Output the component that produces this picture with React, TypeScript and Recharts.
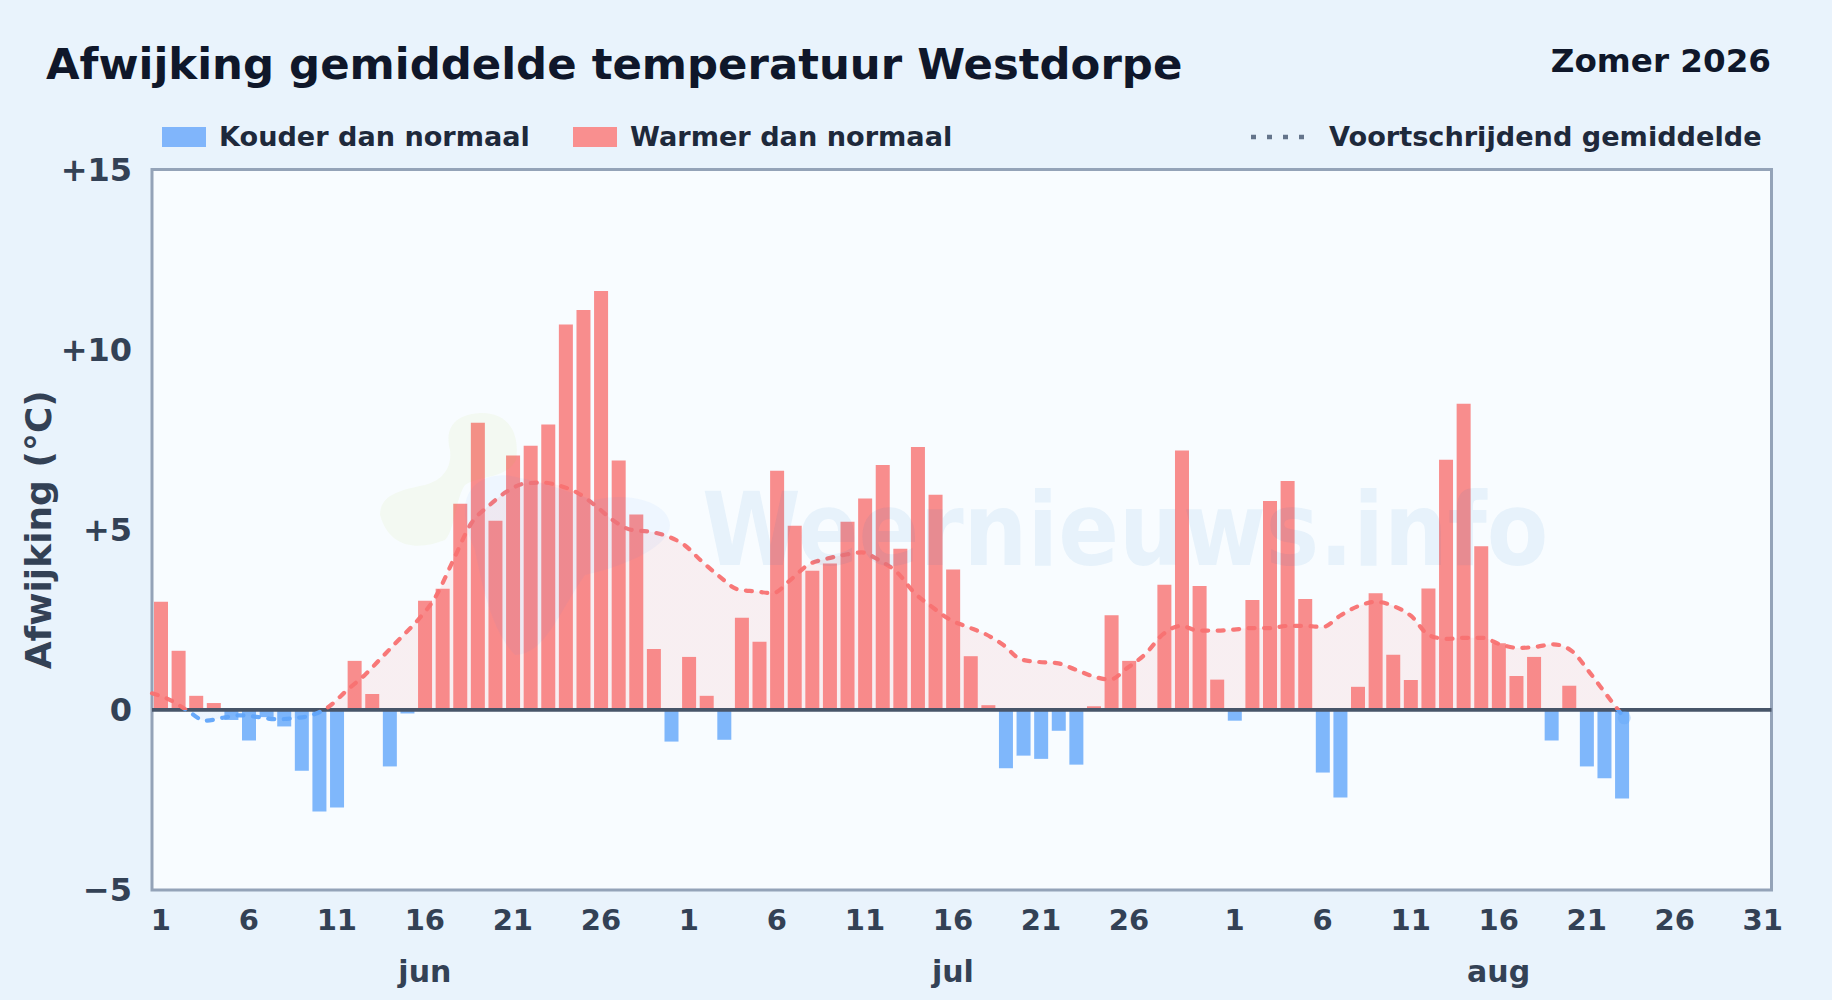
import React from "react";
import { ComposedChart, Bar, Line, Area, XAxis, YAxis, CartesianGrid, ReferenceLine } from "recharts";

const MONTH_LENGTHS = [["jun", 30], ["jul", 31], ["aug", 31]] as const;
const deviations = [
  3.0, 1.64, 0.39, 0.19, -0.28, -0.85, -0.2, -0.46, -1.69, -2.82, -2.71, 1.36, 0.44, -1.57, -0.1,
  3.03, 3.36, 5.72, 7.97, 5.25, 7.06, 7.33, 7.92, 10.7, 11.1, 11.63, 6.92, 5.42, 1.69, -0.88,
  1.47, 0.39, -0.83, 2.56, 1.89, 6.64, 5.11, 3.86, 4.06, 5.22, 5.87, 6.8, 4.47, 7.3, 5.97, 3.9, 1.49, 0.13,
  -1.62, -1.27, -1.36, -0.58, -1.52, 0.1, 2.63, 1.36, 0, 3.47, 7.2, 3.44, 0.84,
  -0.3, 3.05, 5.8, 6.35, 3.08, -1.74, -2.43, 0.64, 3.24, 1.53, 0.83, 3.37, 6.94, 8.5, 4.54, 1.85, 0.94, 1.47,
  -0.85, 0.67, -1.57, -1.9, -2.46,
];
const movingAverage = [
  0.46, 0.28, -0.02, -0.3, -0.22, -0.15, -0.2, -0.26, -0.23, -0.15, 0.1, 0.55, 0.97, 1.48, 1.99, 2.5, 3.15, 4.17,
  5.18, 5.67, 6.06, 6.28, 6.31, 6.22, 6.02, 5.67, 5.26, 5.0, 4.95, 4.83, 4.58, 4.12, 3.7, 3.35, 3.29, 3.24, 3.61,
  4.03, 4.19, 4.3, 4.37, 4.15, 3.82, 3.24, 2.85, 2.5, 2.3, 2.1, 1.8, 1.4, 1.33, 1.3, 1.13, 0.94, 0.84, 1.17, 1.55,
  2.1, 2.33, 2.2, 2.2, 2.23, 2.27, 2.27, 2.33, 2.33, 2.3, 2.62, 2.88, 3.0, 2.88, 2.6, 2.07, 1.97, 2.0, 2.0, 1.82,
  1.72, 1.75, 1.82, 1.65, 1.07, 0.42, -0.22,
];
const yTicks = [-5, 0, 5, 10, 15];
const DAY_TICKS: Record<string, number[]> = {
  jun: [1, 6, 11, 16, 21, 26],
  jul: [1, 6, 11, 16, 21, 26],
  aug: [1, 6, 11, 16, 21, 26, 31],
};
const MONTH_LABEL_DAY = 16;

const days: { key: string; day: number; month: string }[] = [];
MONTH_LENGTHS.forEach(([month, len]) => {
  for (let d = 1; d <= len; d++) days.push({ key: `${month}-${d}`, day: d, month });
});
const chartData = days.map((d, i) => {
  const v = i < deviations.length ? deviations[i] : null;
  return { ...d, warm: v !== null && v > 0 ? v : null, cold: v !== null && v < 0 ? v : null };
});
const avgData = movingAverage.map((avg, i) => ({ pos: i, avg }));
const dayTicks = days.filter((d) => DAY_TICKS[d.month].includes(d.day)).map((d) => d.key);
const monthTicks = days.filter((d) => d.day === MONTH_LABEL_DAY).map((d) => d.key);

const W = 1832;
const H = 1000;
const FONT = "'DejaVu Sans', sans-serif";
const PLOT = { left: 152, right: 1771.5, top: 169.5, bottom: 890 };
const RED = "#f87171";
const BLUE = "#60a5fa";
const ZERO_FRAC = (710 - PLOT.top) / (PLOT.bottom - PLOT.top);

const txt = (x: number, y: number, size: number, color: string, extra: React.CSSProperties = {}): React.CSSProperties => ({
  position: "absolute", left: x, top: y, fontSize: size, color, fontWeight: 700, fontFamily: FONT, lineHeight: 1, whiteSpace: "nowrap", ...extra,
});

const LastDot = (props: any) => {
  if (props.index !== avgData.length - 1) return <g key={props.key ?? props.index} />;
  return <circle key="last" cx={props.cx} cy={props.cy} r={6.5} fill={BLUE} fillOpacity={0.35} stroke="none" />;
};

export default function App() {
  return (
    <div style={{ position: "absolute", left: 0, top: 0, width: W, height: H, background: "#e9f3fc", overflow: "hidden" }}>
      <div style={txt(46, 43, 43.4, "#0f172a")}>Afwijking gemiddelde temperatuur Westdorpe</div>
      <div style={txt(W - 61, 44.5, 32.6, "#0f172a", { transform: "translateX(-100%)" })}>Zomer 2026</div>

      <div style={{ position: "absolute", left: 162, top: 127, width: 44, height: 20, background: "#80b5fb" }} />
      <div style={txt(219, 123, 27.1, "#1e293b")}>Kouder dan normaal</div>
      <div style={{ position: "absolute", left: 573, top: 127, width: 44, height: 20, background: "#f98f8f" }} />
      <div style={txt(630, 123, 27.15, "#1e293b")}>Warmer dan normaal</div>
      <svg style={{ position: "absolute", left: 1245, top: 130, width: 70, height: 14 }}>
        <line x1={6} x2={62} y1={7} y2={7} stroke="#64748b" strokeWidth={4.5} strokeDasharray="5 11" />
      </svg>
      <div style={txt(1329, 123, 27.15, "#1e293b")}>Voortschrijdend gemiddelde</div>

      <ComposedChart
        width={W}
        height={H}
        data={chartData}
        margin={{ left: 0, right: W - PLOT.right, top: PLOT.top, bottom: 0 }}
        barGap={0}
        style={{ position: "absolute", left: 0, top: 0 }}
      >
        <defs>
          <linearGradient id="avgStroke" gradientUnits="userSpaceOnUse" x1={0} x2={0} y1={PLOT.top} y2={PLOT.bottom}>
            <stop offset={ZERO_FRAC} stopColor={RED} />
            <stop offset={ZERO_FRAC} stopColor={BLUE} />
          </linearGradient>
          <linearGradient id="avgFill" gradientUnits="userSpaceOnUse" x1={0} x2={0} y1={PLOT.top} y2={PLOT.bottom}>
            <stop offset={ZERO_FRAC} stopColor={RED} stopOpacity={0.16} />
            <stop offset={ZERO_FRAC} stopColor={BLUE} stopOpacity={0.14} />
          </linearGradient>
        </defs>
        <rect x={PLOT.left} y={PLOT.top} width={PLOT.right - PLOT.left} height={PLOT.bottom - PLOT.top} fill="#f8fcff" />
        <CartesianGrid vertical={false} stroke="#94a3b8" strokeOpacity={0.35} strokeWidth={1.5} />
        <XAxis
          dataKey="key"
          xAxisId="days"
          ticks={dayTicks}
          interval={0}
          height={50}
          tickFormatter={(k: string) => k.split("-")[1]}
          axisLine={false}
          tickLine={false}
          tickMargin={-17}
          tick={{ fontSize: 29, fontWeight: 700, fill: "#334155", fontFamily: FONT }}
        />
        <XAxis
          dataKey="key"
          xAxisId="months"
          ticks={monthTicks}
          interval={0}
          height={60}
          tickFormatter={(k: string) => k.split("-")[0]}
          axisLine={false}
          tickLine={false}
          tickMargin={-15}
          tick={{ fontSize: 30, fontWeight: 700, fill: "#334155", fontFamily: FONT }}
        />
        <XAxis dataKey="pos" type="number" xAxisId="avg" domain={[0, 91.3]} hide />
        <YAxis
          domain={[-5, 15]}
          ticks={yTicks}
          width={PLOT.left}
          interval={0}
          allowDataOverflow
          tickFormatter={(v: number) => (v > 0 ? `+${v}` : v < 0 ? `\u2212${-v}` : "0")}
          axisLine={false}
          tickLine={false}
          tickMargin={14}
          tick={{ fontSize: 32, fontWeight: 700, fill: "#334155", fontFamily: FONT }}
          label={{ value: "Afwijking (°C)", angle: -90, position: "insideLeft", offset: 38, style: { fontSize: 36, fontWeight: 700, fill: "#334155", fontFamily: FONT, textAnchor: "middle" } }}
        />
        <Area data={avgData} xAxisId="avg" dataKey="avg" type="monotone" baseValue={0} stroke="none" fill="url(#avgFill)" isAnimationActive={false} dot={false} activeDot={false} />
        <Bar dataKey="warm" xAxisId="days" stackId="dev" barSize={14} fill={RED} fillOpacity={0.8} isAnimationActive={false} />
        <Bar dataKey="cold" xAxisId="days" stackId="dev" barSize={14} fill={BLUE} fillOpacity={0.8} isAnimationActive={false} />
        <ReferenceLine y={0} xAxisId="days" stroke="#475569" strokeWidth={3.7} />
        <Line data={avgData} xAxisId="avg" dataKey="avg" type="monotone" stroke="url(#avgStroke)" strokeWidth={4.2} strokeDasharray="6 9.5" strokeLinecap="round" strokeOpacity={0.95} dot={LastDot} activeDot={false} isAnimationActive={false} />
        <rect x={PLOT.left} y={PLOT.top} width={PLOT.right - PLOT.left} height={PLOT.bottom - PLOT.top} fill="none" stroke="#94a3b8" strokeWidth={3} />
      </ComposedChart>

      <svg style={{ position: "absolute", left: 370, top: 400, width: 340, height: 280, pointerEvents: "none" }}>
        <path d="M10 115 C10 95 30 90 55 85 C75 80 82 65 80 50 C76 35 78 15 110 13 C140 12 150 35 146 60 C135 80 110 75 95 85 C85 100 85 130 75 140 C50 150 20 150 10 115 Z" fill="#a3c91a" opacity={0.06} />
        <path d="M95 110 C95 80 125 70 150 78 C185 85 205 95 225 100 C255 92 298 100 300 125 C300 145 260 165 215 175 C190 210 175 255 145 255 C120 230 110 175 105 150 C98 135 95 125 95 110 Z" fill="#3b82f6" opacity={0.05} />
      </svg>
      <div style={txt(702, 480, 101, "rgba(14,116,200,0.07)", { pointerEvents: "none", transform: "scaleX(0.888)", transformOrigin: "left top" })}>Weernieuws.info</div>
    </div>
  );
}
